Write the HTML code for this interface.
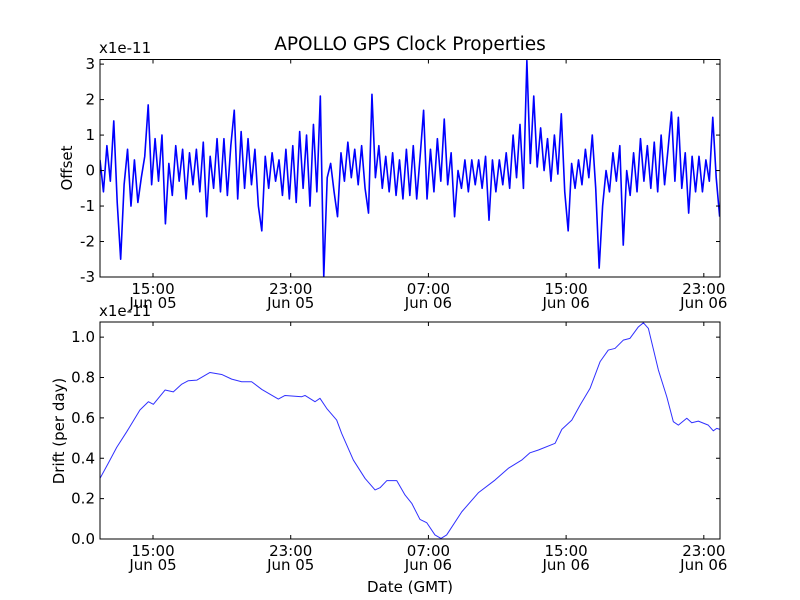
<!DOCTYPE html>
<html><head><meta charset="utf-8"><style>
body{margin:0;background:#fff}
svg{display:block;font-family:"DejaVu Sans","Liberation Sans",sans-serif}
</style></head><body>
<svg id="chart" width="800" height="600" viewBox="0 0 800 600">
<rect width="800" height="600" fill="#fff"/>
<text x="410" y="50" font-size="18.5" text-anchor="middle">APOLLO GPS Clock Properties</text>
<text x="99" y="53" font-size="15">x1e-11</text>
<text x="99" y="316" font-size="15">x1e-11</text>
<text x="72" y="168" font-size="15" text-anchor="middle" transform="rotate(-90 72 168)">Offset</text>
<text x="64" y="431" font-size="15" text-anchor="middle" transform="rotate(-90 64 431)">Drift (per day)</text>
<text x="410" y="592" font-size="15" text-anchor="middle">Date (GMT)</text>
<g id="g"></g>
</svg>
<script>
const tickHours = [0, 8, 16, 24, 32];
const tickTimes = ["15:00","23:00","07:00","15:00","23:00"];
const tickDays = ["Jun 05","Jun 05","Jun 06","Jun 06","Jun 06"];
const offsetStart = -3.08;
const offsetStep = 0.2;
const offsetValues = [0.3,-0.6,0.7,-0.3,1.4,-0.9,-2.5,-0.4,0.6,-1.0,
0.3,-0.9,-0.2,0.4,1.85,-0.4,0.9,-0.3,1.0,-1.5,
0.2,-0.7,0.7,-0.3,0.6,-0.8,0.5,-0.4,0.6,-0.6,
0.8,-1.3,0.4,-0.5,0.9,-0.6,0.9,-0.7,0.7,1.7,
-0.8,1.1,-0.5,0.9,-0.4,0.6,-1.0,-1.7,0.4,-0.5,
0.5,-0.3,0.3,-0.7,0.6,-0.8,0.7,-0.9,1.1,-0.5,
1.0,-1.0,1.3,-0.6,2.1,-3.0,-0.2,0.2,-0.6,-1.3,
0.5,-0.3,0.8,-0.2,0.6,-0.4,0.7,-0.5,-1.2,2.15,
-0.2,0.7,-0.5,0.4,-0.6,0.5,-0.7,0.3,-0.8,0.6,
-0.7,0.7,-0.8,0.4,1.7,-0.8,0.6,-0.6,0.9,-0.3,
1.45,-0.4,0.5,-1.3,0.0,-0.5,0.3,-0.6,0.3,-0.4,
0.3,-0.5,0.4,-1.4,0.3,-0.6,0.3,-0.4,0.5,-0.5,
1.0,-0.2,1.3,-0.5,3.1,0.2,2.1,0.1,1.2,0.0,
0.9,-0.3,1.0,-0.1,1.6,-0.6,-1.7,0.2,-0.5,0.3,
-0.4,0.6,-0.2,1.0,-0.5,-2.75,-1.0,0.0,-0.6,0.5,
-0.3,0.7,-2.1,0.0,-0.7,0.5,-0.6,0.9,-0.3,0.7,
-0.5,0.8,-0.6,1.0,-0.4,0.6,1.65,-0.3,1.5,-0.5,
0.5,-1.2,0.4,-0.6,0.4,-0.6,0.3,-0.3,1.5,-0.2,-1.3];
const driftHours = [-3.08,-2.60,-2.11,-1.53,-0.76,-0.27,0.02,0.70,1.18,1.67,2.05,2.54,3.31,3.99,4.57,5.15,5.73,6.32,7.28,7.67,8.64,8.83,9.41,9.70,10.09,10.67,10.96,11.64,12.32,12.90,13.19,13.58,14.16,14.64,15.03,15.51,15.90,16.38,16.73,17.06,17.94,18.90,19.87,20.64,21.42,21.90,22.39,23.36,23.75,24.33,24.81,25.39,25.97,26.45,26.84,27.32,27.71,28.20,28.49,28.78,29.36,29.85,30.23,30.52,31.01,31.30,31.68,32.26,32.55,32.75,32.94];
const driftValues = [0.300,0.375,0.454,0.531,0.639,0.680,0.667,0.738,0.729,0.767,0.784,0.787,0.825,0.815,0.792,0.779,0.779,0.741,0.693,0.711,0.705,0.711,0.680,0.697,0.647,0.589,0.523,0.391,0.300,0.243,0.254,0.289,0.289,0.218,0.177,0.097,0.081,0.020,0.003,0.020,0.135,0.229,0.292,0.350,0.391,0.427,0.441,0.474,0.543,0.589,0.663,0.746,0.878,0.936,0.944,0.985,0.994,1.051,1.071,1.043,0.837,0.704,0.581,0.564,0.598,0.576,0.584,0.564,0.536,0.548,0.543];
const offsetTicks = [3,2,1,0,-1,-2,-3];
const driftTicks = [0.0,0.2,0.4,0.6,0.8,1.0];

const NS="http://www.w3.org/2000/svg";
const g=document.getElementById('g');
const L=100,R=720,T0=-3.08,T1=32.94;
const xs=t=>L+(t-T0)/(T1-T0)*(R-L);
function mk(tag,attrs,parent){const e=document.createElementNS(NS,tag);for(const k in attrs)e.setAttribute(k,attrs[k]);(parent||g).appendChild(e);return e;}

function panel(top,bot,ymin,ymax,ticks,fmt,times,vals,lw,col,name){
  const ys=v=>bot-(v-ymin)/(ymax-ymin)*(bot-top);
  const cp=mk('clipPath',{id:'c'+name});
  mk('rect',{x:L,y:top,width:R-L,height:bot-top},cp);
  let d='';
  vals.forEach((v,i)=>{d+=(i?'L':'M')+xs(times[i]).toFixed(2)+' '+ys(v).toFixed(2);});
  const p=mk('path',{d:d,fill:'none',stroke:col,'stroke-width':lw,'stroke-linejoin':'round','clip-path':'url(#c'+name+')'});
  
  
  ticks.forEach(v=>{
    const y=ys(v);
    const a=mk('line',{x1:L,x2:L+4,y1:y,y2:y,stroke:'#000'});
    
    
    mk('line',{x1:R-4,x2:R,y1:y,y2:y,stroke:'#000'});
    const t=mk('text',{x:L-5,y:y+5,'font-size':15,'text-anchor':'end'});
    t.textContent=fmt(v);
    
    
  });
  tickHours.forEach((h,i)=>{
    const x=xs(h);
    const a=mk('line',{x1:x,x2:x,y1:bot,y2:bot-4,stroke:'#000'});
    
    
    mk('line',{x1:x,x2:x,y1:top,y2:top+4,stroke:'#000'});
    const t1=mk('text',{x:x,y:bot+17,'font-size':15,'text-anchor':'middle'});
    t1.textContent=tickTimes[i];
    
    
    const t2=mk('text',{x:x,y:bot+31,'font-size':15,'text-anchor':'middle'});
    t2.textContent=tickDays[i];
    
    
  });
  const f=mk('rect',{x:L,y:top,width:R-L,height:bot-top,fill:'none',stroke:'#000','stroke-width':1});
  
  
}
const offTimes=offsetValues.map((v,i)=>offsetStart+i*offsetStep);
panel(59.5,277,-3,3.13,offsetTicks,v=>String(v),offTimes,offsetValues,1.6,'#0000ff','offset');
panel(322,539,0,1.075,driftTicks,v=>v.toFixed(1),driftHours,driftValues,1,'#3030ff','drift');
</script>
</body></html>
